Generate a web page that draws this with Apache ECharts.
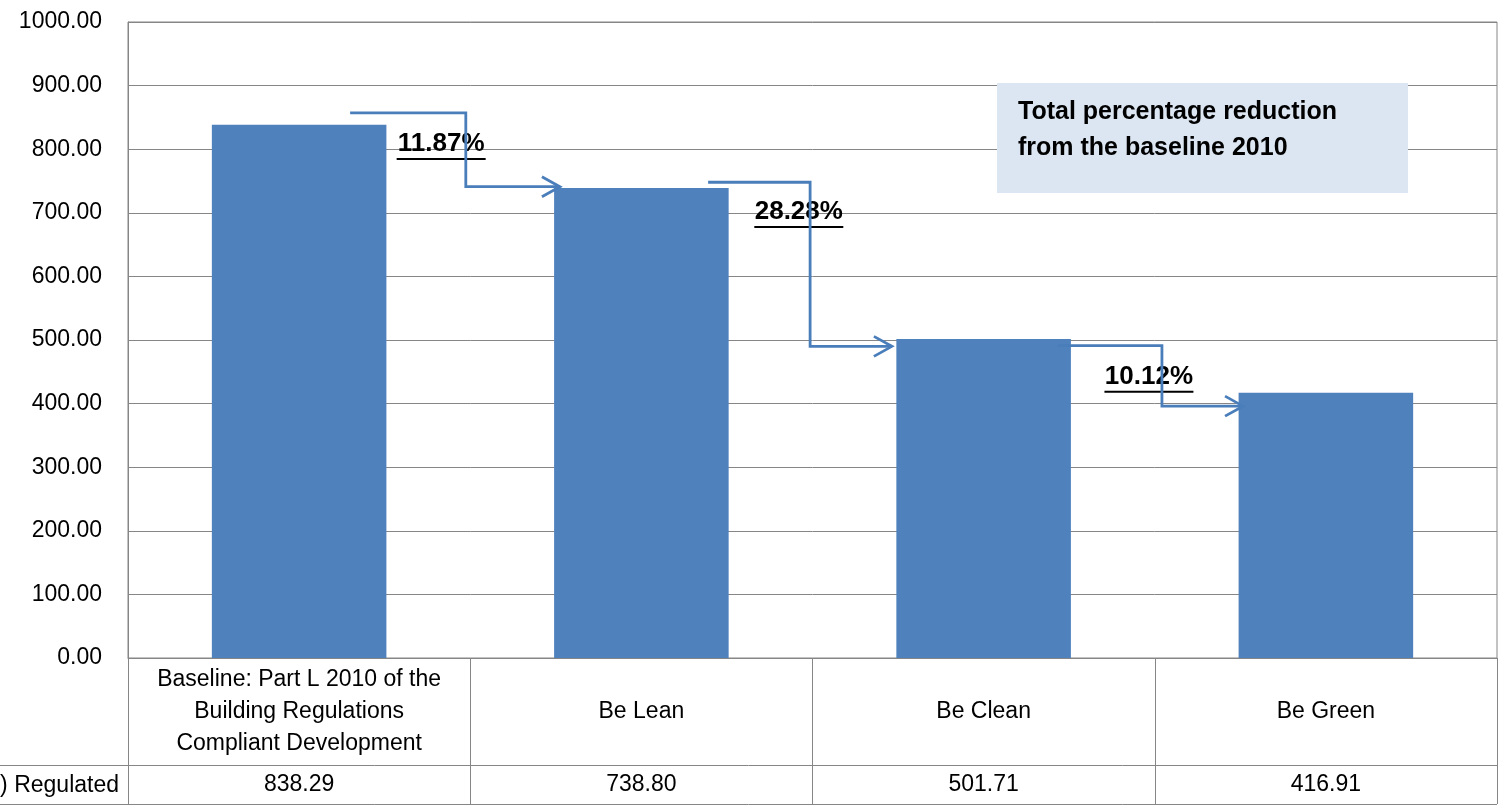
<!DOCTYPE html>
<html>
<head>
<meta charset="utf-8">
<script src="https://cdn.jsdelivr.net/npm/echarts@6/dist/echarts.min.js"></script>
<style>
  html, body { margin: 0; padding: 0; background: #fff; }
  #chart { width: 1506px; height: 806px; }
</style>
</head>
<body>
<div id="chart"></div>
<script>
// chart data
const categories = [
    'Baseline: Part L 2010 of the\nBuilding Regulations\nCompliant Development',
    'Be Lean',
    'Be Clean',
    'Be Green'
];
const regulated = [838.29, 738.80, 501.71, 416.91];
const rowHeader = ') Regulated';

// step annotations (x on a 0..4 value axis that overlays the categories)
const stepLabels = ['11.87%', '28.28%', '10.12%'];
const stepLabelPos = [[0.915, 806], [1.960, 699], [2.983, 440]];
const connectors = [
    [[0.649, 857], [0.987, 857], [0.987, 741], [1.262, 741]],
    [[1.695, 748], [1.993, 748], [1.993, 490], [2.232, 490]],
    [[2.717, 491], [3.021, 491], [3.021, 396], [3.258, 396]]
];
const boxText = 'Total percentage reduction\nfrom the baseline 2010';

const FONT = "'Liberation Sans', Arial, sans-serif";
const GRID_GRAY = '#868686';
const BAR_BLUE = '#4f81bd';
const LINE_BLUE = '#4a7ebb';

const chart = echarts.init(document.getElementById('chart'), null, { renderer: 'canvas' });

const option = {
    backgroundColor: '#fff',
    animation: false,
    textStyle: { fontFamily: FONT },
    title: {
        text: boxText,
        left: 997,
        top: 83,
        padding: [11, 71, 27, 21],
        backgroundColor: '#dce6f2',
        textStyle: {
            fontFamily: FONT,
            fontSize: 25,
            fontWeight: 'bold',
            color: '#000',
            lineHeight: 36
        }
    },
    grid: {
        left: 128,
        right: 9,
        top: 22,
        bottom: 148,
        show: true,
        borderColor: GRID_GRAY,
        borderWidth: 1
    },
    xAxis: [
        {
            // category row of the table
            type: 'category',
            position: 'bottom',
            data: categories,
            axisLine: { show: true, lineStyle: { color: GRID_GRAY, width: 1 } },
            axisTick: { show: true, interval: 0, length: 146, lineStyle: { color: GRID_GRAY, width: 1 } },
            axisLabel: {
                interval: 0,
                margin: 54,
                verticalAlign: 'middle',
                align: 'center',
                color: '#000',
                fontFamily: FONT,
                fontSize: 23,
                lineHeight: 32
            }
        },
        {
            // overlay axis for the step connectors
            type: 'value',
            position: 'top',
            min: 0,
            max: 4,
            show: false
        },
        {
            // value row of the table
            type: 'category',
            position: 'bottom',
            data: categories,
            axisLine: { show: false },
            axisTick: { show: false },
            axisLabel: {
                interval: 0,
                margin: 127,
                verticalAlign: 'middle',
                color: '#000',
                fontFamily: FONT,
                fontSize: 23,
                formatter: (v, i) => regulated[i].toFixed(2)
            }
        }
    ],
    yAxis: {
        type: 'value',
        min: 0,
        max: 1000,
        interval: 100,
        axisLine: { show: true, lineStyle: { color: GRID_GRAY } },
        axisTick: { show: false },
        splitLine: { lineStyle: { color: GRID_GRAY, width: 1 } },
        axisLabel: {
            margin: 26,
            color: '#000',
            fontFamily: FONT,
            fontSize: 23,
            formatter: v => v.toFixed(2)
        }
    },
    graphic: [
        {
            type: 'line',
            shape: { x1: 0, y1: 765.5, x2: 1497, y2: 765.5 },
            style: { stroke: GRID_GRAY, lineWidth: 1 }
        },
        {
            type: 'line',
            shape: { x1: 0, y1: 804.5, x2: 1497, y2: 804.5 },
            style: { stroke: GRID_GRAY, lineWidth: 1 }
        },
        {
            type: 'text',
            right: 1506 - 119,
            top: 774,
            style: {
                text: rowHeader,
                fill: '#000',
                font: '23px ' + FONT,
                textAlign: 'right'
            }
        }
    ],
    series: [
        {
            type: 'bar',
            xAxisIndex: 0,
            yAxisIndex: 0,
            data: regulated,
            barWidth: '51%',
            itemStyle: { color: BAR_BLUE }
        },
        {
            type: 'scatter',
            xAxisIndex: 1,
            yAxisIndex: 0,
            data: stepLabelPos,
            symbolSize: 0,
            silent: true,
            z: 3,
            itemStyle: { opacity: 1 },
            label: {
                show: true,
                position: 'inside',
                color: '#000',
                opacity: 1,
                textBorderWidth: 0,
                formatter: p => '{t|' + stepLabels[p.dataIndex] + '}\n{u|}',
                rich: {
                    t: {
                        fontFamily: FONT,
                        fontSize: 26,
                        fontWeight: 'bold',
                        color: '#000',
                        textBorderWidth: 0,
                        lineHeight: 27
                    },
                    u: {
                        width: 89,
                        height: 2,
                        lineHeight: 3,
                        backgroundColor: '#000'
                    }
                }
            }
        },
        {
            // step connectors drawn above the percentage labels
            type: 'custom',
            xAxisIndex: 1,
            yAxisIndex: 0,
            clip: false,
            data: connectors.map(c => c[0]),
            renderItem: function (params, api) {
                const pts = connectors[params.dataIndex].map(p => api.coord(p));
                const end = pts[pts.length - 1];
                const stroke = { stroke: LINE_BLUE, lineWidth: 2.8, fill: null };
                return {
                    type: 'group',
                    children: [
                        { type: 'polyline', shape: { points: pts }, style: stroke },
                        {
                            type: 'polyline',
                            shape: { points: [[end[0] - 18, end[1] - 10], end, [end[0] - 18, end[1] + 10]] },
                            style: stroke
                        }
                    ]
                };
            },
            z: 6
        }
    ]
};

chart.setOption(option);
</script>
</body>
</html>
